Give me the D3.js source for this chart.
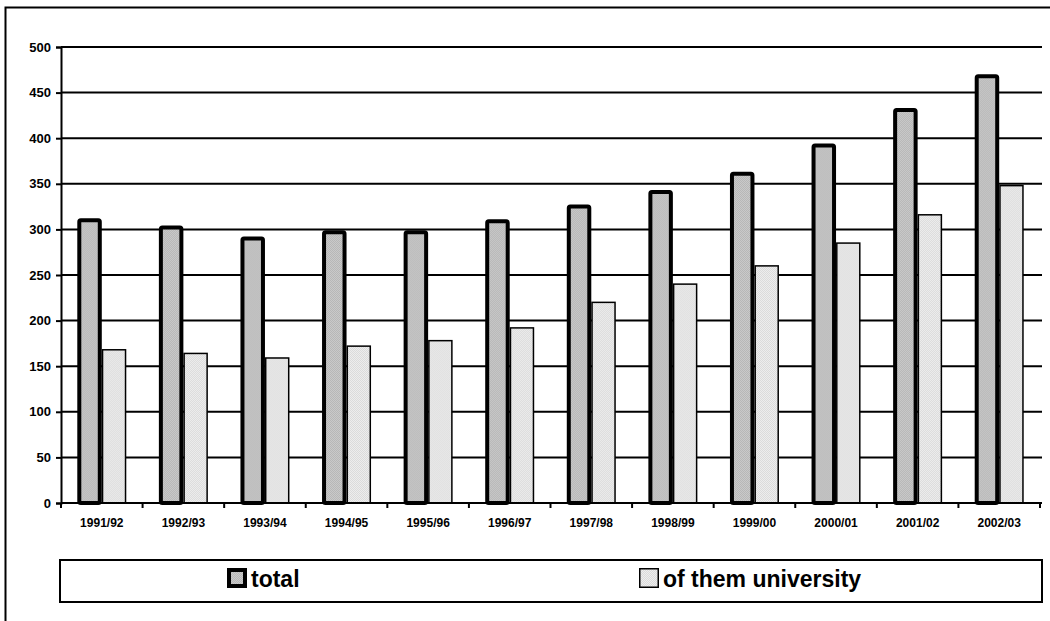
<!DOCTYPE html>
<html>
<head>
<meta charset="utf-8">
<script src="https://cdn.jsdelivr.net/npm/d3@7"></script>
<style>
  html, body { margin: 0; padding: 0; background: #fff; }
  svg { display: block; font-family: "Liberation Sans", Arial, sans-serif; }
</style>
</head>
<body>
<svg id="chart" width="1050" height="621"></svg>
<script>
// Student enrolment (thousands) by academic year
const years = ["1991/92","1992/93","1993/94","1994/95","1995/96","1996/97",
               "1997/98","1998/99","1999/00","2000/01","2001/02","2002/03"];
const total =      [310, 302, 290, 297, 297, 309, 325, 341, 361, 392, 431, 468];
const university = [168, 164, 159, 172, 178, 192, 220, 240, 260, 285, 316, 348];
const yTicks = [0, 50, 100, 150, 200, 250, 300, 350, 400, 450, 500];
const seriesNames = ["total", "of them university"];

const svg = d3.select("#chart");
const defs = svg.append("defs");

// fine dithered fills for the two series
function dither(id, base, dot) {
  const p = defs.append("pattern").attr("id", id)
    .attr("patternUnits", "userSpaceOnUse").attr("width", 2).attr("height", 2);
  p.append("rect").attr("width", 2).attr("height", 2).attr("fill", base);
  p.append("rect").attr("width", 1).attr("height", 1).attr("fill", dot);
  p.append("rect").attr("x", 1).attr("y", 1).attr("width", 1).attr("height", 1).attr("fill", dot);
}
dither("patTotal", "#cacaca", "#b6b6b6");
dither("patUni", "#eeeeee", "#dadada");

// outer frame
svg.append("rect").attr("x", 5.5).attr("y", 7.5).attr("width", 1060).attr("height", 630)
  .attr("fill", "none").attr("stroke", "#000").attr("stroke-width", 2);

const plot = { left: 61, right: 1040, top: 47, bottom: 503 };

const x = d3.scaleBand().domain(years).range([plot.left, plot.right]);
const y = d3.scaleLinear().domain([0, 500]).range([plot.bottom, plot.top]);
const inner = d3.scaleBand().domain(seriesNames).range([0, 49]).paddingInner(0);
const groupOffset = (x.bandwidth() - 49) / 2;

// horizontal gridlines
svg.append("g").selectAll("line").data(yTicks.filter(d => d > 0)).join("line")
  .attr("x1", plot.left).attr("x2", plot.right + 2)
  .attr("y1", d => y(d)).attr("y2", d => y(d))
  .attr("stroke", "#000").attr("stroke-width", 2);

// bars
const groups = svg.append("g").selectAll("g").data(years).join("g")
  .attr("transform", d => `translate(${x(d) + groupOffset},0)`);

groups.append("rect")
  .attr("x", inner("total") + 2)
  .attr("width", inner.bandwidth() - 4)
  .attr("y", (d, i) => y(total[i]))
  .attr("height", (d, i) => y(0) - y(total[i]))
  .attr("fill", "url(#patTotal)")
  .attr("stroke", "#000").attr("stroke-width", 4)
  .attr("stroke-linejoin", "round").attr("rx", 1.5);

groups.append("rect")
  .attr("x", inner("of them university") + 0.75)
  .attr("width", inner.bandwidth() - 1.5)
  .attr("y", (d, i) => y(university[i]))
  .attr("height", (d, i) => y(0) - y(university[i]))
  .attr("fill", "url(#patUni)")
  .attr("stroke", "#000").attr("stroke-width", 1.5);

// y axis
const yAxis = svg.append("g").attr("transform", `translate(${plot.left},0)`)
  .call(d3.axisLeft(y).tickValues(yTicks).tickSize(5).tickPadding(5));
yAxis.select(".domain").attr("stroke-width", 2);
yAxis.selectAll(".tick line").attr("stroke-width", 2);
yAxis.selectAll(".tick text").attr("font-size", 13).attr("font-weight", "bold")
  .attr("font-family", "Liberation Sans, Arial, sans-serif").attr("fill", "#000");

// x axis with ticks at category boundaries
const xAxis = svg.append("g").attr("transform", `translate(0,${plot.bottom})`)
  .call(d3.axisBottom(x).tickSize(0).tickPadding(15));
xAxis.select(".domain").attr("stroke-width", 2).attr("d", `M${plot.left},0H${plot.right + 2}`);
xAxis.selectAll(".tick text").attr("font-size", 12).attr("font-weight", "bold")
  .attr("font-family", "Liberation Sans, Arial, sans-serif").attr("fill", "#000");
xAxis.append("g").selectAll("line").data(years.map(d => x(d)).concat([plot.right])).join("line")
  .attr("x1", d => d).attr("x2", d => d).attr("y1", 0).attr("y2", 5)
  .attr("stroke", "#000").attr("stroke-width", 2);

// legend
const legend = svg.append("g");
legend.append("rect").attr("x", 60).attr("y", 560).attr("width", 982).attr("height", 42)
  .attr("fill", "#fff").attr("stroke", "#000").attr("stroke-width", 2);

const legendItems = [
  { name: seriesNames[0], fill: "url(#patTotal)", sw: 4, x: 227 },
  { name: seriesNames[1], fill: "url(#patUni)", sw: 1.5, x: 639 }
];
const li = legend.selectAll("g.item").data(legendItems).join("g").attr("class", "item")
  .attr("transform", d => `translate(${d.x},568)`);
li.append("rect")
  .attr("x", d => d.sw / 2).attr("y", d => d.sw / 2)
  .attr("width", d => 20 - d.sw).attr("height", d => 20 - d.sw)
  .attr("fill", d => d.fill).attr("stroke", "#000").attr("stroke-width", d => d.sw);
li.append("text").attr("x", 24).attr("y", 19)
  .attr("font-size", 23).attr("font-weight", "bold").attr("fill", "#000")
  .text(d => d.name);
</script>
</body>
</html>
